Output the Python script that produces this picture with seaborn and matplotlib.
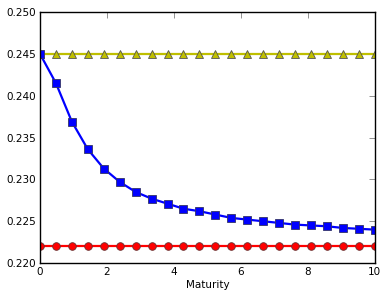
import numpy as np
import pandas as pd
import matplotlib
matplotlib.use("Agg")
import matplotlib.pyplot as plt
import seaborn as sns

maturity = np.linspace(0, 10, 22)
flat_high = [0.245] * 22
curve = [0.2450, 0.2415, 0.2369, 0.2336, 0.2313, 0.2297, 0.2285, 0.2277,
         0.2271, 0.2265, 0.2262, 0.2258, 0.2254, 0.2252, 0.2250, 0.2248,
         0.2246, 0.2245, 0.2244, 0.2242, 0.2241, 0.2240]
flat_low = [0.222] * 22

sns.set_style("white")
plt.rcParams['font.family'] = ['DejaVu Sans']
plt.rcParams['text.color'] = 'black'

df = pd.DataFrame({'Maturity': maturity, 'high': flat_high, 'curve': curve, 'low': flat_low})

fig = plt.figure(figsize=(3.88, 2.99), dpi=100)
ax = fig.add_axes([0.103, 0.12, 0.863, 0.84])

sns.lineplot(data=df, x='Maturity', y='high', ax=ax, color=(0.75, 0.75, 0), marker='^',
             markersize=6, markeredgecolor='#555555', markeredgewidth=0.6, linewidth=1.6)
sns.lineplot(data=df, x='Maturity', y='curve', ax=ax, color='b', marker='s',
             markersize=5.5, markeredgecolor='#333366', markeredgewidth=0.6, linewidth=1.6)
sns.lineplot(data=df, x='Maturity', y='low', ax=ax, color='r', marker='o',
             markersize=5.5, markeredgecolor='#663333', markeredgewidth=0.6, linewidth=1.6)

ax.set_xlim(0, 10)
ax.set_ylim(0.220, 0.250)
ax.set_xticks([0, 2, 4, 6, 8, 10])
ax.set_yticks([0.220, 0.225, 0.230, 0.235, 0.240, 0.245, 0.250])
ax.set_yticklabels(['0.220', '0.225', '0.230', '0.235', '0.240', '0.245', '0.250'])
ax.set_xlabel('Maturity', fontsize=7.5, labelpad=2, color='black')
ax.set_ylabel('')
ax.tick_params(direction='in', top=True, right=True, labelsize=7.5, length=4, width=0.5,
               color='#666666', labelcolor='black', pad=3)
for s in ax.spines.values():
    s.set_color('black')
    s.set_linewidth(1)

fig.savefig('out.png', dpi=100)
